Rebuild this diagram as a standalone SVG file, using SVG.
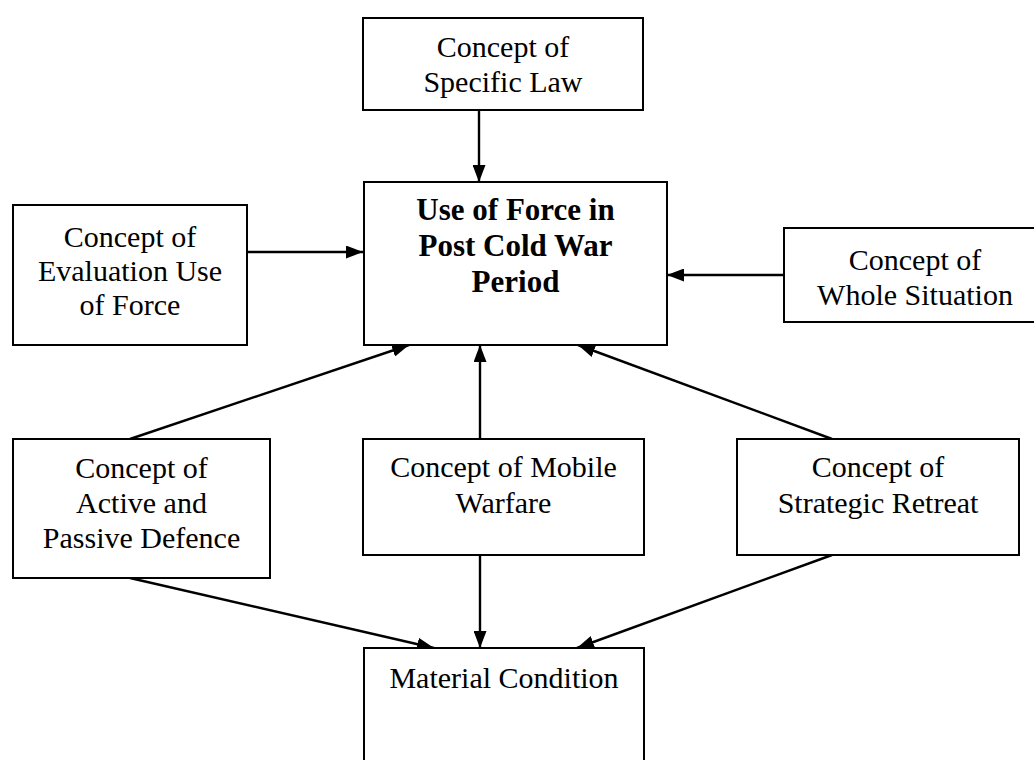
<svg xmlns="http://www.w3.org/2000/svg" width="1034" height="760" viewBox="0 0 1034 760">
  <style>
    .box { fill: #ffffff; stroke: #000000; stroke-width: 2; }
    .lbl { font-family: "Liberation Serif", "Times New Roman", serif; font-size: 30px; fill: #000000; text-anchor: middle; }
    .bold { font-weight: bold; font-size: 31px; }
    .edge { fill: none; stroke: #000000; stroke-width: 2.4; marker-end: url(#arrow); }
  </style>
  <defs>
    <marker id="arrow" markerUnits="userSpaceOnUse" markerWidth="17" markerHeight="13" refX="17" refY="6.5" orient="auto">
      <path d="M0,0 L17,6.5 L0,13 z" fill="#000000"/>
    </marker>
  </defs>
  <rect width="1034" height="760" fill="#ffffff"/>

  <g id="connectors">
    <line class="edge" x1="479" y1="110" x2="479" y2="182"/>
    <line class="edge" x1="247" y1="252" x2="363" y2="252"/>
    <line class="edge" x1="784" y1="275" x2="667" y2="275"/>
    <line class="edge" x1="130" y1="439" x2="409" y2="345"/>
    <line class="edge" x1="480" y1="439" x2="480" y2="345"/>
    <line class="edge" x1="832" y1="439" x2="578" y2="345"/>
    <line class="edge" x1="130" y1="578" x2="434" y2="648"/>
    <line class="edge" x1="480" y1="555" x2="480" y2="648"/>
    <line class="edge" x1="832" y1="555" x2="577" y2="648"/>
  </g>

  <g id="specific-law">
    <rect class="box" x="363" y="18" width="280" height="92"/>
    <text class="lbl" x="503" y="57">Concept of</text>
    <text class="lbl" x="503" y="92">Specific Law</text>
  </g>

  <g id="use-of-force">
    <rect class="box" x="364" y="182" width="303" height="163"/>
    <text class="lbl bold" x="515.5" y="220">Use of Force in</text>
    <text class="lbl bold" x="515.5" y="256">Post Cold War</text>
    <text class="lbl bold" x="515.5" y="292">Period</text>
  </g>

  <g id="evaluation">
    <rect class="box" x="13" y="205" width="234" height="140"/>
    <text class="lbl" x="130" y="247">Concept of</text>
    <text class="lbl" x="130" y="281">Evaluation Use</text>
    <text class="lbl" x="130" y="315">of Force</text>
  </g>

  <g id="whole-situation">
    <rect class="box" x="784" y="228" width="262" height="94"/>
    <text class="lbl" x="915" y="270">Concept of</text>
    <text class="lbl" x="915" y="305">Whole Situation</text>
  </g>

  <g id="active-passive">
    <rect class="box" x="13" y="439" width="257" height="139"/>
    <text class="lbl" x="141.5" y="478">Concept of</text>
    <text class="lbl" x="141.5" y="513">Active and</text>
    <text class="lbl" x="141.5" y="548">Passive Defence</text>
  </g>

  <g id="mobile-warfare">
    <rect class="box" x="363" y="439" width="281" height="116"/>
    <text class="lbl" x="503.5" y="477">Concept of Mobile</text>
    <text class="lbl" x="503.5" y="513">Warfare</text>
  </g>

  <g id="strategic-retreat">
    <rect class="box" x="737" y="439" width="282" height="116"/>
    <text class="lbl" x="878" y="477">Concept of</text>
    <text class="lbl" x="878" y="513">Strategic Retreat</text>
  </g>

  <g id="material-condition">
    <rect class="box" x="364" y="648" width="280" height="130"/>
    <text class="lbl" x="504" y="688">Material Condition</text>
  </g>
</svg>
